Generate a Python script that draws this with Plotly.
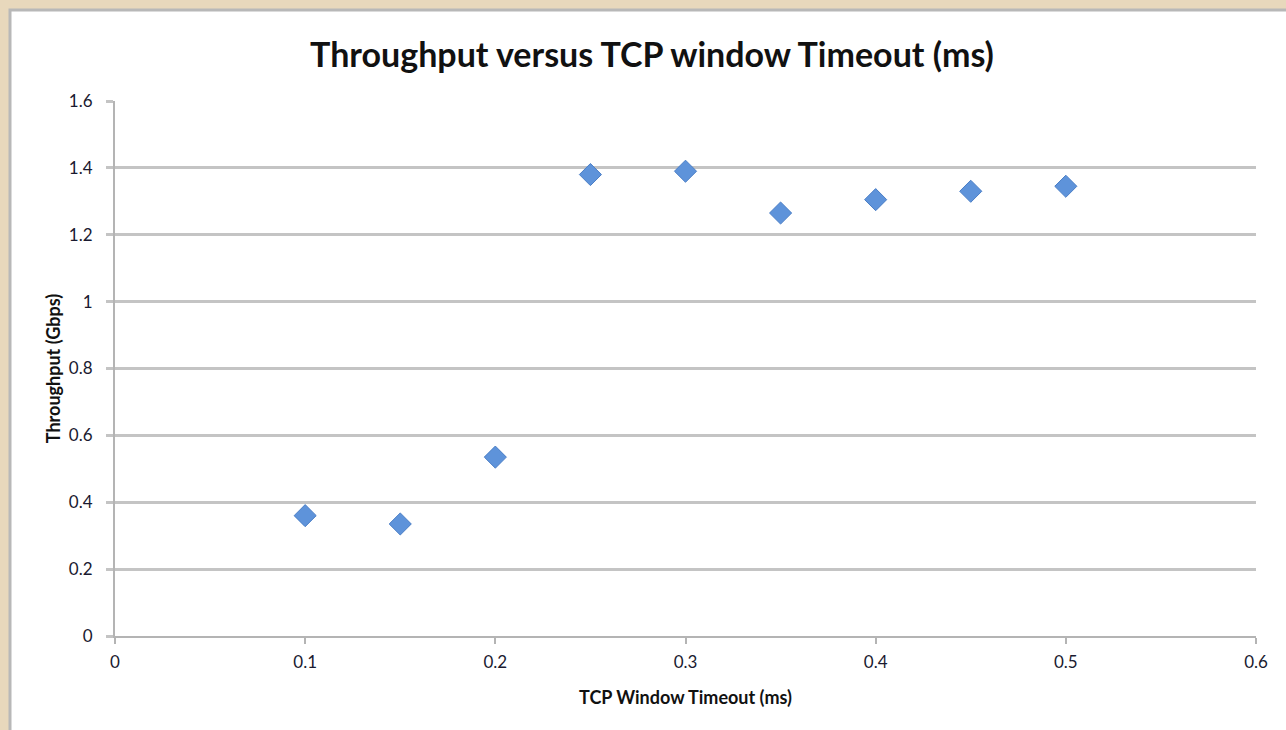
import plotly.graph_objects as go

timeout_ms = [0.1, 0.15, 0.2, 0.25, 0.3, 0.35, 0.4, 0.45, 0.5]
throughput_gbps = [0.36, 0.335, 0.535, 1.38, 1.39, 1.265, 1.305, 1.33, 1.345]
x_ticks = [0, 0.1, 0.2, 0.3, 0.4, 0.5, 0.6]
x_tick_labels = ["0", "0.1", "0.2", "0.3", "0.4", "0.5", "0.6"]
y_ticks = [0, 0.2, 0.4, 0.6, 0.8, 1.0, 1.2, 1.4, 1.6]
y_tick_labels = ["0", "0.2", "0.4", "0.6", "0.8", "1", "1.2", "1.4", "1.6"]

W, H = 1286, 730
L, R, T, B = 115, 30, 101, 94
pw, ph = W - L - R, H - T - B

def px(xp):
    return (xp - L) / pw

def py(yp):
    return (H - B - yp) / ph

fig = go.Figure()
fig.add_trace(go.Scatter(
    x=timeout_ms, y=throughput_gbps, mode="markers",
    marker=dict(symbol="diamond", size=17, color="#5E93DA",
                line=dict(color="#4A7EC6", width=1)),
    showlegend=False,
))

fig.add_shape(type="rect", xref="paper", yref="paper",
              x0=px(10), x1=px(W + 20), y0=py(H + 20), y1=py(10),
              fillcolor="white", line=dict(color="#B8B8B8", width=3), layer="below")

fig.update_layout(
    width=W, height=H,
    margin=dict(l=L, r=R, t=T, b=B),
    paper_bgcolor="#E8D8BC",
    plot_bgcolor="rgba(0,0,0,0)",
    title=dict(text="<b>Throughput versus TCP window Timeout (ms)</b>",
               x=652 / W, xanchor="center", y=1 - 55 / H, yanchor="middle",
               font=dict(family="Lato", size=34, color="#111111")),
    font=dict(family="Lato", color="#222222"),
)
fig.update_xaxes(
    range=[0, 0.6], tickvals=x_ticks, ticktext=x_tick_labels,
    showgrid=False, zeroline=False,
    showline=True, linecolor="#B4B4B4", linewidth=2,
    ticks="outside", ticklen=6, tickcolor="#B4B4B4", tickwidth=2,
    ticklabelstandoff=4,
    tickfont=dict(size=17, family="Lato", color="#1A1A30"),
    title=dict(text="<b>TCP Window Timeout (ms)</b>", font=dict(size=18, family="Lato", color="#111111"), standoff=20),
)
fig.update_yaxes(
    range=[0, 1.6], tickvals=y_ticks, ticktext=y_tick_labels,
    showgrid=True, gridcolor="#C4C4C4", gridwidth=2.5, zeroline=False,
    showline=True, linecolor="#B4B4B4", linewidth=2,
    ticks="outside", ticklen=7, tickcolor="#C4C4C4", tickwidth=2.5,
    ticklabelstandoff=10,
    tickfont=dict(size=17, family="Lato", color="#1A1A30"),
    title=dict(text="<b>Throughput (Gbps)</b>", font=dict(size=18, family="Lato", color="#111111"), standoff=4),
)

fig.write_html("out.html", post_script="document.body.style.margin='0';",
               config={"displayModeBar": False})
